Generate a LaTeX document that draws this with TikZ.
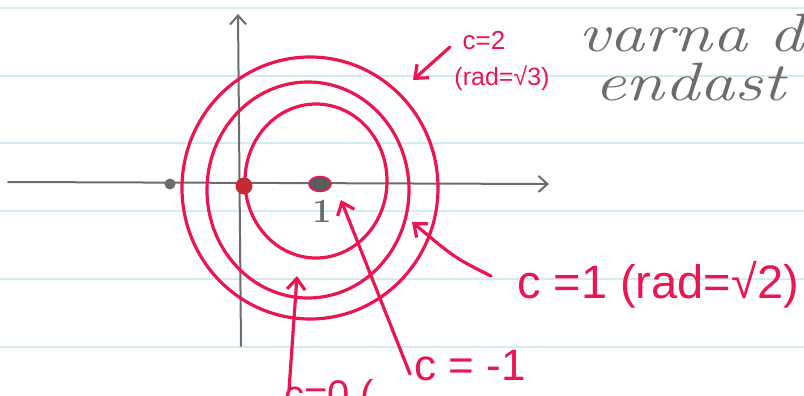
\documentclass[tikz,border=0pt]{standalone}
\usepackage{fontspec}
\newfontfamily\pen{Liberation Sans}
\usetikzlibrary{arrows.meta,shapes.geometric}
\definecolor{ink}{RGB}{234,22,82}
\definecolor{pencil}{RGB}{108,108,108}
\definecolor{rulecol}{RGB}{214,234,242}
\definecolor{dotred}{RGB}{196,42,52}
\begin{document}
\begin{tikzpicture}[x=1pt,y=-1pt,
  inkline/.style={draw=ink,line width=3.2pt,line cap=round,line join=round},
  inkarrow/.style={inkline,-{Straight Barb[length=11pt,width=18pt]}},
  axisline/.style={draw=pencil,line width=2pt,line cap=round,-{Straight Barb[length=9pt,width=16pt]}},
  ruleline/.style={draw=rulecol,line width=1.2pt},
  ring/.style={ellipse,draw=ink,line width=3.2pt,inner sep=0pt,outer sep=0pt},
  inklabel/.style={text=ink,inner sep=0pt},
  pencillabel/.style={text=pencil,inner sep=0pt,xscale=1.3},
]
\useasboundingbox (0,0) rectangle (804,396);
\fill[white] (0,0) rectangle (804,396);
\foreach \y in {8,76,143,211,279,347} \draw[ruleline] (0,\y) -- (804,\y);

% axes
\coordinate (xl) at (8,182);
\coordinate (xr) at (549,184);
\coordinate (yb) at (241,346);
\coordinate (yt) at (238,14);
\draw[axisline] (xl) -- (xr);
\draw[axisline] (yb) -- (yt);

% level curves
\node[ring,minimum width=142pt,minimum height=154pt] (cin) at (316,181) {};
\node[ring,minimum width=202pt,minimum height=216pt] (cmid) at (308,190) {};
\node[ring,minimum width=256pt,minimum height=262pt] (cout) at (310,188) {};

% points
\node[circle,fill=pencil,minimum size=11pt,inner sep=0pt] (pm1) at (170,184) {};
\node[circle,fill=dotred,minimum size=17pt,inner sep=0pt] (p0) at (244,186) {};
\node[ellipse,fill=pencil!85!black,draw=ink,line width=1.5pt,minimum width=22pt,minimum height=15pt,inner sep=0pt] (p1) at (320,184) {};
\node[text=pencil,font=\bfseries\fontsize{34}{34}\selectfont,inner sep=0pt] (one) at (322,211) {1};

% red labels
\node[inklabel,font=\pen\fontsize{26}{26}\selectfont] (c2) at (484,41) {c=2};
\node[inklabel,font=\pen\fontsize{25}{25}\selectfont] (c2r) at (502,78) {(rad=√3)};
\node[inklabel,font=\pen\fontsize{47}{47}\selectfont] (c1) at (658,285) {c =1 (rad=√2)};
\node[inklabel,font=\pen\fontsize{44}{44}\selectfont] (cm1) at (470,366) {c = -1};
\node[inklabel,font=\pen\fontsize{40}{40}\selectfont,anchor=north west] (c0) at (284,379) {c=0 (};

% pencil text
\node[pencillabel,font=\itshape\fontsize{54}{54}\selectfont,anchor=base west] (varna) at (578,52) {varna\hspace{16pt}d};
\node[pencillabel,font=\itshape\fontsize{54}{54}\selectfont,anchor=base west] (endast) at (594,101) {endast};

% arrows
\coordinate (c2tail) at (450,47);
\coordinate (c2tip) at (413,80);
\coordinate (c1tail) at (491,276);
\coordinate (c1tip) at (412,222);
\coordinate (cm1tail) at (410,374);
\coordinate (cm1tip) at (341,200);
\coordinate (c0tail) at (289,390);
\coordinate (c0tip) at (297,276);
\draw[inkarrow] (c2tail) -- (c2tip);
\draw[inkarrow] (c1tail) .. controls (455,258) .. (c1tip);
\draw[inkarrow] (cm1tail) -- (cm1tip);
\draw[inkarrow] (c0tail) -- (c0tip);
\end{tikzpicture}
\end{document}
